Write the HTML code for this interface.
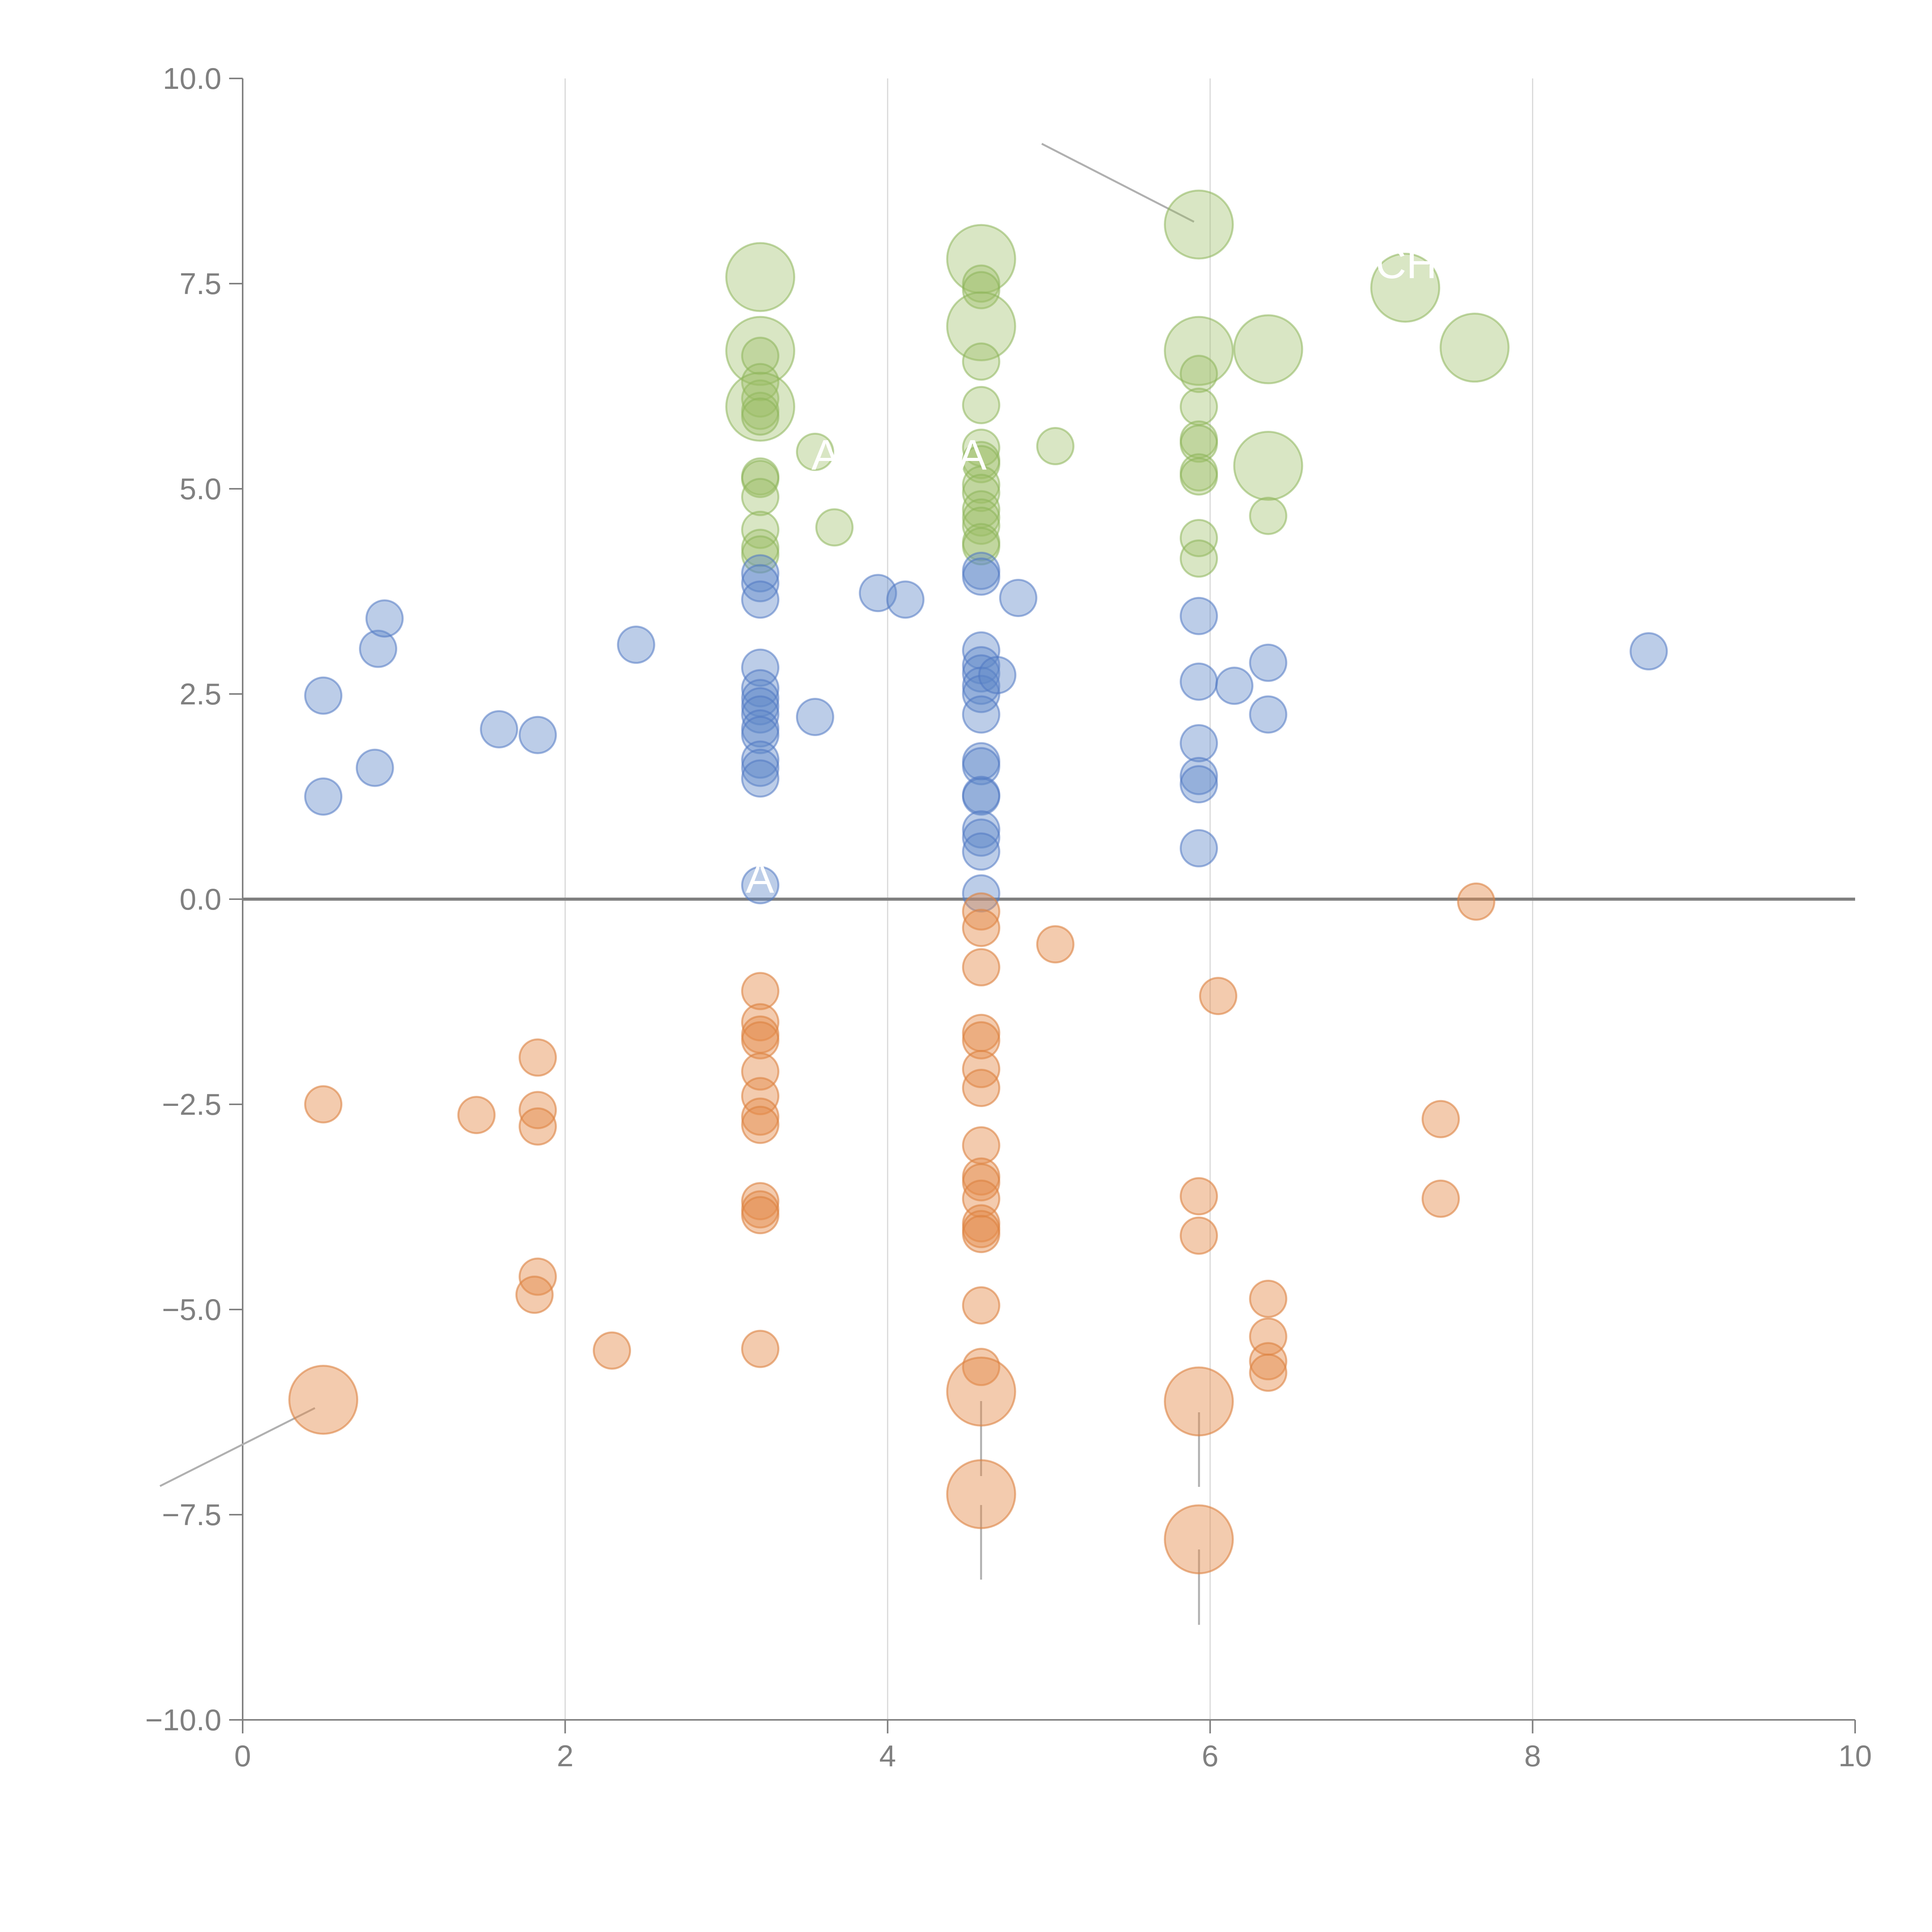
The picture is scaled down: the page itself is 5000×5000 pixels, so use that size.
<!DOCTYPE html>
<html><head><meta charset="utf-8"><style>
html,body{margin:0;padding:0;background:#fff}
svg{display:block}
text{font-family:"Liberation Sans",sans-serif;fill:#808080}
</style></head><body>
<svg id="chart" width="5000" height="5000" viewBox="0 0 5000 5000" xmlns="http://www.w3.org/2000/svg">
<g id="grid"></g>
<g id="axes"></g>
<g id="annot"></g>
<g id="marks"></g>
<g id="labels"></g>
</svg>
<script>
const xTicks=[0,2,4,6,8,10];
const yTicks=[10,7.5,5,2.5,0,-2.5,-5,-7.5,-10];
const yTickLabels=["10.0","7.5","5.0","2.5","0.0","\u22122.5","\u22125.0","\u22127.5","\u221210.0"];
const blueX=[0.5,0.5,0.82,0.84,0.88,1.59,1.83,2.44,3.21,3.21,3.21,3.21,3.21,3.21,3.21,3.21,3.21,3.21,3.21,3.21,3.21,3.21,3.55,3.94,4.11,4.81,4.58,4.58,4.58,4.58,4.58,4.58,4.58,4.58,4.58,4.58,4.58,4.58,4.58,4.58,4.58,4.58,4.68,5.93,5.93,5.93,5.93,5.93,5.93,6.15,6.36,6.36,8.72];
const blueY=[2.48,1.25,1.6,3.05,3.42,2.07,2.0,3.1,3.97,3.85,3.65,2.82,2.57,2.45,2.35,2.25,2.08,2.0,1.7,1.6,1.47,0.17,2.22,3.73,3.65,3.67,4.0,3.93,3.03,2.85,2.75,2.6,2.5,2.25,1.68,1.62,1.27,1.25,0.85,0.75,0.58,0.07,2.73,3.45,2.65,1.9,1.5,1.4,0.62,2.6,2.88,2.25,3.02];
const orangeX=[0.5,0.5,1.45,1.83,1.83,1.83,1.83,1.81,2.29,3.21,3.21,3.21,3.21,3.21,3.21,3.21,3.21,3.21,3.21,3.21,3.21,4.58,4.58,4.58,4.58,4.58,4.58,4.58,4.58,4.58,4.58,4.58,4.58,4.58,4.58,4.58,4.58,4.58,4.58,5.04,6.05,5.93,5.93,5.93,5.93,6.36,6.36,6.36,6.36,7.43,7.43,7.65];
const orangeY=[-2.5,-6.1,-2.63,-1.93,-2.57,-2.77,-4.6,-4.82,-5.5,-1.12,-1.5,-1.65,-1.72,-2.1,-2.4,-2.65,-2.75,-3.68,-3.78,-3.85,-5.48,-0.15,-0.35,-0.83,-1.63,-1.72,-2.07,-2.3,-3.0,-3.38,-3.45,-3.65,-3.95,-4.02,-4.08,-4.95,-5.7,-6.0,-7.25,-0.55,-1.18,-3.62,-4.1,-6.12,-7.8,-4.87,-5.33,-5.63,-5.77,-2.68,-3.65,-0.03];
const orangeBig=[0,1,0,0,0,0,0,0,0,0,0,0,0,0,0,0,0,0,0,0,0,0,0,0,0,0,0,0,0,0,0,0,0,0,0,0,0,1,1,0,0,0,0,1,1,0,0,0,0,0,0,0];
const greenX=[3.21,3.21,3.21,3.21,3.21,3.21,3.21,3.21,3.21,3.21,3.21,3.21,3.21,3.21,3.55,3.67,4.58,4.58,4.58,4.58,4.58,4.58,4.58,4.58,4.58,4.58,4.58,4.58,4.58,4.58,4.58,4.58,5.04,5.93,5.93,5.93,5.93,5.93,5.93,5.93,5.93,5.93,5.93,6.36,6.36,6.36,7.21,7.64];
const greenY=[7.58,6.68,6.62,6.3,6.1,5.95,6.0,5.88,5.15,5.12,4.9,4.5,4.28,4.2,5.45,4.53,7.8,7.5,7.42,6.98,6.55,6.02,5.5,5.35,5.3,5.05,4.95,4.75,4.65,4.55,4.35,4.3,5.52,8.22,6.68,6.4,6.0,5.6,5.55,5.2,5.15,4.4,4.15,6.7,5.28,4.67,7.45,6.72];
const greenBig=[1,1,0,0,0,0,1,0,0,0,0,0,0,0,0,0,1,0,0,1,0,0,0,0,0,0,0,0,0,0,0,0,0,1,1,0,0,0,0,0,0,0,0,1,1,0,1,1];

const NS="http://www.w3.org/2000/svg";
const X0=628,XS=417.3,Y0=2327,YS=212.4;
function sx(v){return X0+XS*v;}
function sy(v){return Y0-YS*v;}
function mk(parent,tag,attrs){const e=document.createElementNS(NS,tag);for(const k in attrs)e.setAttribute(k,attrs[k]);parent.appendChild(e);return e;}
const grid=document.getElementById('grid'),axes=document.getElementById('axes'),marks=document.getElementById('marks'),annot=document.getElementById('annot'),labels=document.getElementById('labels');

xTicks.forEach(t=>{
  if(t>0&&t<10){const g=mk(grid,'line',{x1:sx(t),x2:sx(t),y1:sy(10),y2:sy(-10),stroke:'#d8d8d8','stroke-width':3});
  
  }
  const tk=mk(axes,'line',{x1:sx(t),x2:sx(t),y1:sy(-10),y2:sy(-10)+35,stroke:'#808080','stroke-width':4});
  
  
  const tx=mk(axes,'text',{x:sx(t),y:sy(-10)+120,'text-anchor':'middle','font-size':78});
  tx.textContent=String(t);
  
  
});
yTicks.forEach((t,i)=>{
  const tk=mk(axes,'line',{x1:sx(0)-35,x2:sx(0),y1:sy(t),y2:sy(t),stroke:'#808080','stroke-width':4});
  
  
  const tx=mk(axes,'text',{x:sx(0)-55,y:sy(t)+27,'text-anchor':'end','font-size':78});
  tx.textContent=yTickLabels[i];
  
  
});
const ya=mk(axes,'line',{x1:sx(0),x2:sx(0),y1:sy(10),y2:sy(-10),stroke:'#808080','stroke-width':4});


const xa=mk(axes,'line',{x1:sx(0),x2:sx(10),y1:sy(-10),y2:sy(-10),stroke:'#808080','stroke-width':4});


const zl=mk(axes,'line',{x1:sx(0),x2:sx(10),y1:sy(0),y2:sy(0),stroke:'#808080','stroke-width':8});



function series(xs,ys,big,fill,stroke,name){
  xs.forEach((x,i)=>{
    const r=big&&big[i]?88:47;
    const c=mk(marks,'circle',{cx:sx(x),cy:sy(ys[i]),r:r,fill:fill,stroke:stroke,'stroke-width':5});
    
    
  });
}
series(greenX,greenY,greenBig,'rgba(155,190,100,0.38)','rgba(140,180,90,0.55)','green-bubble');
series(blueX,blueY,null,'rgba(95,135,200,0.42)','rgba(80,120,195,0.55)','blue-bubble');
series(orangeX,orangeY,orangeBig,'rgba(228,140,75,0.45)','rgba(220,130,65,0.6)','orange-bubble');

[[2708,372,3102,574],[426,3846,827,3644],[2551,3626,2551,3820],[2551,3895,2551,4088],[3115,3655,3115,3848],[3115,4010,3115,4205]].forEach(l=>{
  const e=mk(annot,'line',{x1:l[0]-12,y1:l[1],x2:l[2]-12,y2:l[3],stroke:'#b0b0b0','stroke-width':5});
  
  
});
[[2100,1215,"A"],[2480,1215,"A"],[3560,720,"CH"],[1930,2310,"A"]].forEach(t=>{
  const e=mk(labels,'text',{x:t[0],y:t[1],'font-size':110});
  e.style.fill='#ffffff';
  e.textContent=t[2];
  
  
});
</script>
</body></html>
